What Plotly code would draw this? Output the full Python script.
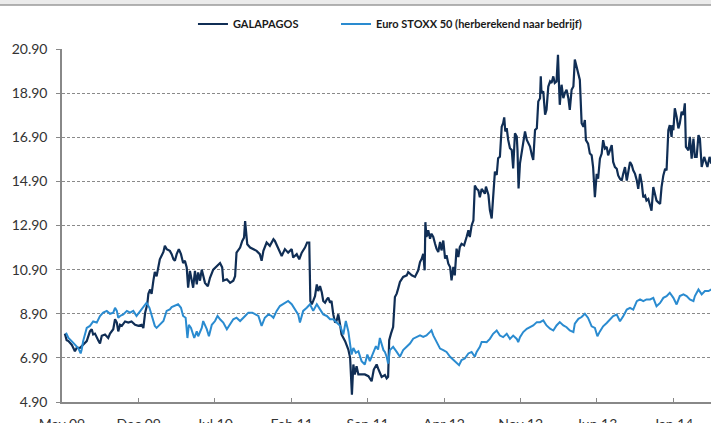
import pandas as pd
import plotly.graph_objects as go

# Day offsets from 1 May 2009 and share values (EUR)
galapagos_days = [
    8, 13, 18, 27, 36, 41, 50, 59, 69, 78, 83, 87, 92, 101, 106, 111, 120, 129, 134, 143,
    148, 153, 157, 162, 167, 176, 185, 194, 204, 213, 222, 227, 232, 238, 241, 246, 250, 255, 259, 264,
    269, 273, 283, 287, 292, 301,
    306, 311, 315, 320, 326, 332, 338, 343, 348, 352, 357, 362, 366, 371, 376, 380, 385, 390, 394, 399,
    407, 413, 422, 432, 441, 447, 450, 460, 469, 478, 483, 487, 497, 503, 508, 511, 513, 517, 525, 534,
    543, 552, 557, 562, 571, 580, 590,
    594, 603, 613, 622, 631, 641, 645, 655, 662, 669, 678, 684, 690, 693, 697, 701, 706, 711, 715, 720,
    725, 729, 734, 739, 743, 748, 752, 757, 762, 766, 771, 776, 780, 790, 799, 804, 806, 809, 813, 817,
    822, 827, 836, 845, 855, 864, 870, 878,
    882, 892, 901, 906, 910, 913, 918, 924, 929, 934, 938, 943, 952, 962, 966, 976, 985, 994, 999, 1004,
    1008, 1012, 1014, 1017, 1022, 1027, 1031, 1036, 1041, 1045, 1050, 1055, 1059, 1064, 1069, 1073, 1078, 1083, 1087, 1092,
    1096, 1101, 1106, 1110, 1115, 1122, 1129, 1134, 1138, 1143, 1148, 1152, 1157, 1162, 1166, 1171, 1180,
    1183, 1190, 1194, 1199, 1203, 1208, 1213, 1217, 1222, 1227, 1231, 1234, 1237, 1241, 1245, 1250, 1255, 1259, 1264, 1269,
    1271, 1274, 1278, 1283, 1287, 1292, 1297, 1301, 1306, 1311, 1315, 1320, 1325, 1329, 1334, 1336, 1338, 1343, 1348, 1352,
    1357, 1362, 1366, 1371, 1375, 1380, 1384, 1387, 1389, 1394, 1399, 1403, 1408, 1413, 1417, 1422, 1427, 1431, 1436, 1441,
    1445, 1450, 1455,
    1459, 1462, 1468, 1473, 1478, 1482, 1487, 1492, 1496, 1501, 1506, 1510, 1515, 1520, 1524, 1529, 1534, 1538, 1543, 1548,
    1552, 1557, 1562, 1566, 1571, 1576, 1580, 1585, 1590, 1594, 1599, 1604, 1608, 1613, 1618, 1622, 1627, 1631, 1636, 1641,
    1645, 1650, 1655, 1659, 1664, 1669, 1673, 1678, 1683, 1687, 1692, 1696, 1701, 1703, 1706, 1710, 1715, 1720, 1724, 1729,
    1734, 1738, 1741, 1748, 1752, 1757, 1762, 1766, 1771, 1776, 1780, 1785, 1792, 1801, 1807, 1812,
]
galapagos_vals = [
    8.00, 7.70, 7.66, 7.50, 7.20, 7.35, 7.35, 7.50, 7.66, 8.10, 8.20, 7.96, 8.00, 7.70, 7.55, 7.90, 7.96, 7.80, 8.00, 8.20,
    8.65, 8.50, 8.10, 8.40, 8.35, 8.55, 8.50, 8.55, 8.40, 8.35, 8.40, 8.25, 8.95, 9.33, 9.80, 10.00, 9.80, 10.40, 10.80, 10.60,
    11.00, 11.37, 11.70, 11.98, 11.83, 11.75,
    11.60, 11.37, 11.30, 11.60, 11.83, 11.60, 11.20, 11.30, 11.00, 10.08, 10.84, 10.40, 10.08, 10.84, 10.23, 10.77, 10.40, 10.90, 10.60, 10.30,
    10.15, 10.53, 10.90, 11.07, 11.20, 11.00, 10.40, 10.46, 10.30, 10.40, 10.60, 11.67, 11.90, 12.20, 12.35, 13.10, 12.80, 12.05, 11.90, 11.83,
    11.75, 11.60, 11.30, 11.75, 12.13, 11.98, 12.28,
    12.20, 11.90, 11.52, 11.83, 11.67, 11.83, 11.45, 11.60, 11.37, 11.67, 11.90, 12.13, 12.13, 9.48, 9.33, 9.48, 9.70, 10.23, 9.93, 10.15,
    9.86, 9.48, 9.40, 9.55, 9.63, 9.40, 9.48, 8.87, 8.50, 8.57, 8.87, 8.40, 7.96, 7.66, 7.28, 6.90, 6.30, 5.23, 6.60, 6.15,
    6.52, 6.15, 6.15, 6.15, 6.07, 5.84, 6.37, 6.60,
    6.42, 6.04, 6.12, 5.97, 6.04, 7.70, 8.00, 8.30, 9.66, 9.81, 10.04, 10.34, 10.57, 10.64, 10.79, 10.64, 10.57, 10.87, 11.24, 11.40,
    11.62, 10.87, 13.05, 12.38, 12.68, 12.30, 12.53, 12.38, 12.07, 11.85, 11.70, 12.15, 11.77, 12.22, 11.40, 11.55, 11.17, 11.02, 10.41, 11.02,
    10.64, 11.85, 11.47, 11.92, 12.07, 12.00, 12.38, 12.68, 12.38, 12.90, 13.13, 14.71, 14.56, 14.49, 14.18, 14.56, 14.34,
    14.66, 14.28, 13.60, 13.22, 14.05, 15.34, 15.19, 15.95, 16.02, 17.38, 17.54, 17.80, 17.16, 17.31, 16.78, 16.40, 16.32, 15.49, 17.08, 16.93,
    16.32, 14.58, 15.72, 16.25, 16.78, 17.16, 16.78, 16.63, 16.48, 16.10, 15.87, 17.23, 17.31, 18.52, 18.67, 19.66, 18.90, 18.98, 17.92, 18.14,
    19.20, 19.43, 19.36, 19.66, 19.36, 19.43, 20.64, 19.20, 18.37, 19.28, 18.67, 18.90, 19.05, 18.67, 18.14, 19.05, 19.20, 20.42, 20.04, 19.81,
    19.50, 17.54, 17.38,
    17.68, 16.77, 16.61, 16.16, 16.08, 15.55, 14.18, 15.24, 15.02, 15.93, 16.16, 16.77, 16.39, 16.46, 16.08, 16.31, 16.54, 15.78, 15.55, 15.47,
    15.17, 15.02, 14.94, 15.24, 15.55, 14.94, 15.32, 15.78, 15.63, 15.40, 15.24, 14.94, 14.56, 15.24, 14.79, 14.18, 14.26, 14.03, 14.10, 13.80,
    13.57, 14.64, 14.33, 14.03, 13.95, 13.88, 14.64, 15.17, 15.47, 15.40, 17.22, 17.45, 16.92, 17.45, 17.22, 18.21, 17.83, 17.30, 17.53, 18.06,
    17.91, 18.44, 16.46, 16.31, 16.92, 15.93, 16.84, 16.01, 16.01, 17.00, 16.84, 15.55, 16.01, 15.55, 16.01, 15.70,
]

stoxx_days = [
    11, 18, 27, 36, 45, 52, 55, 59, 69, 78, 87, 97, 106, 115, 125, 134, 143, 148, 153, 157,
    162, 171, 181, 190, 199, 208, 218, 227, 236, 244, 250, 259, 264, 273, 283, 292, 301,
    306, 315, 324, 332, 338, 345, 350, 354, 360, 369, 376, 380, 390, 394, 404, 410, 418, 427, 434, 441,
    450, 460, 469, 478, 487, 497, 511, 520, 531, 540, 548, 557, 566, 576, 585,
    590, 599, 608, 622, 631, 641, 650, 659, 664, 673, 683, 692, 701, 711, 720, 729, 739, 748, 757, 766,
    776, 785, 792, 799, 804, 808, 813, 820, 827, 836, 845, 852, 859, 869, 876, 882, 887,
    897, 901, 906, 910, 915, 924, 934, 943, 952, 962, 971, 980, 990, 999, 1008, 1017, 1027, 1031, 1036, 1045,
    1055, 1064, 1073, 1083, 1092, 1101, 1108, 1115, 1124, 1134, 1143, 1152, 1157, 1166, 1171, 1180,
    1185, 1194, 1203, 1213, 1222, 1231, 1241, 1250, 1259, 1269, 1273, 1278, 1287, 1297, 1306, 1315, 1325, 1334, 1343, 1352,
    1362, 1371, 1380, 1389, 1399, 1408, 1417, 1427, 1431, 1441, 1450, 1459,
    1468, 1478, 1487, 1494, 1501, 1510, 1520, 1529, 1538, 1548, 1557, 1566, 1576, 1585, 1594, 1604, 1613, 1622, 1631, 1641,
    1650, 1659, 1669, 1678, 1687, 1696, 1706, 1715, 1724, 1734, 1743, 1752, 1762, 1766, 1776, 1785, 1794, 1804, 1812,
]
stoxx_vals = [
    8.04, 7.80, 7.66, 7.50, 7.35, 7.10, 7.28, 7.66, 8.26, 8.35, 8.55, 8.50, 8.80, 8.95, 9.03, 8.90, 8.95, 9.17, 9.03, 8.72,
    8.80, 8.87, 9.03, 8.95, 9.03, 8.80, 9.03, 9.25, 9.40, 9.17, 8.80, 8.35, 8.26, 8.40, 8.57, 9.03, 9.10,
    9.20, 9.25, 9.33, 9.17, 8.80, 8.72, 7.80, 8.40, 8.26, 7.80, 8.10, 7.88, 8.26, 8.57, 8.20, 7.88, 8.40, 8.57, 8.80, 8.65,
    8.50, 8.20, 8.40, 8.65, 8.72, 8.57, 8.80, 8.95, 8.95, 8.87, 8.80, 8.35, 8.72, 8.87, 8.80,
    8.72, 9.03, 9.25, 9.40, 9.48, 9.33, 9.10, 8.87, 8.50, 9.03, 9.17, 9.33, 9.03, 9.33, 9.10, 8.87, 8.80, 8.65, 8.65, 8.50,
    8.35, 7.96, 8.57, 8.10, 7.35, 7.05, 7.35, 7.13, 7.20, 6.75, 6.60, 7.05, 6.75, 7.20, 7.43, 7.28, 7.80,
    7.25, 7.17, 6.95, 6.64, 7.25, 7.40, 7.17, 6.95, 7.25, 7.40, 7.55, 7.77, 7.85, 7.92, 7.85, 7.92, 8.08, 8.15, 7.92, 7.62,
    7.32, 7.25, 7.17, 6.95, 6.80, 6.64, 6.57, 6.80, 6.87, 7.10, 7.17, 6.95, 7.17, 7.40, 7.62, 7.62,
    7.61, 7.76, 7.99, 8.14, 7.91, 7.84, 7.99, 7.76, 7.91, 7.76, 7.61, 7.84, 8.07, 8.22, 8.29, 8.37, 8.52, 8.52, 8.60, 8.37,
    8.22, 8.14, 8.37, 8.52, 8.37, 8.29, 8.14, 8.07, 8.45, 8.67, 8.75, 8.90,
    8.71, 8.33, 8.26, 7.88, 8.10, 8.33, 8.48, 8.64, 8.79, 8.86, 8.56, 8.79, 9.09, 9.17, 9.09, 9.47, 9.55, 9.47, 9.55, 9.55,
    9.62, 9.24, 9.39, 9.62, 9.70, 9.85, 9.62, 9.32, 9.70, 9.78, 9.70, 9.55, 9.47, 9.70, 10.00, 9.78, 9.93, 9.93, 10.00,
]

start_date = "2009-05-01"
tick_dates = ["2009-05-01", "2009-12-01", "2010-07-01", "2011-02-01", "2011-09-01",
              "2012-04-01", "2012-11-01", "2013-06-01", "2014-01-01"]
tick_labels = ["May 09", "Dec 09", "Jul 10", "Feb 11", "Sep 11",
               "Apr 12", "Nov 12", "Jun 13", "Jan 14"]
y_ticks = [4.9, 6.9, 8.9, 10.9, 12.9, 14.9, 16.9, 18.9, 20.9]

base = pd.Timestamp(start_date)
gal_x = base + pd.to_timedelta(galapagos_days, unit="D")
stx_x = base + pd.to_timedelta(stoxx_days, unit="D")

FONT = "Lato"
legend_font = dict(family=FONT, size=11, color="#1a1a1a", weight="bold")

fig = go.Figure()
fig.add_trace(go.Scatter(x=gal_x, y=galapagos_vals, mode="lines", name="GALAPAGOS",
                         line=dict(color="#102e55", width=2.2), legend="legend"))
fig.add_trace(go.Scatter(x=stx_x, y=stoxx_vals, mode="lines",
                         name="Euro STOXX 50 (herberekend naar bedrijf)",
                         line=dict(color="#2a8bd0", width=2), legend="legend2"))

fig.update_layout(
    width=711, height=423,
    margin=dict(l=62, r=0, t=49, b=21, autoexpand=False),
    paper_bgcolor="white", plot_bgcolor="white",
    font=dict(family=FONT, size=14, color="#333333"),
    showlegend=True,
    legend=dict(orientation="h", x=0.2018, xanchor="left",
                y=1 - 24 / 423, yref="container", yanchor="middle",
                font=legend_font, bgcolor="rgba(0,0,0,0)"),
    legend2=dict(orientation="h", x=0.4222, xanchor="left",
                 y=1 - 24 / 423, yref="container", yanchor="middle",
                 font=legend_font, bgcolor="rgba(0,0,0,0)"),
    xaxis=dict(type="date", range=["2009-05-01", "2014-04-16"],
               tickvals=tick_dates, ticktext=tick_labels, automargin=False,
               showgrid=False, zeroline=False,
               showline=True, linecolor="#888888", linewidth=1.5,
               ticks="inside", ticklen=4, tickcolor="#888888", tickwidth=1,
               ticklabelstandoff=8,
               tickfont=dict(family=FONT, size=14, color="#333333")),
    yaxis=dict(range=[4.9, 20.9], tickvals=y_ticks, automargin=False,
               ticktext=[f"{v:.2f}" for v in y_ticks],
               showgrid=True, gridcolor="#8a8a8a", gridwidth=1, griddash="3px,2px",
               zeroline=False,
               showline=True, linecolor="#888888", linewidth=1.5,
               ticks="outside", ticklen=4, tickcolor="#888888", tickwidth=1,
               ticklabelstandoff=6,
               tickfont=dict(family=FONT, size=14, color="#333333")),
    shapes=[
        dict(type="rect", xref="paper", yref="paper", x0=-0.1, x1=1.0,
             y0=1.1246, y1=1.15, fillcolor="#ebebeb", line=dict(width=0), layer="below"),
        dict(type="line", xref="paper", yref="paper", x0=-0.1, x1=1.0,
             y0=1.1246, y1=1.1246, line=dict(color="#9a9a9a", width=1.5)),
    ],
)

fig.write_html("out.html", config={"displayModeBar": False},
               post_script="document.body.style.margin='0';document.body.style.overflow='hidden';")
